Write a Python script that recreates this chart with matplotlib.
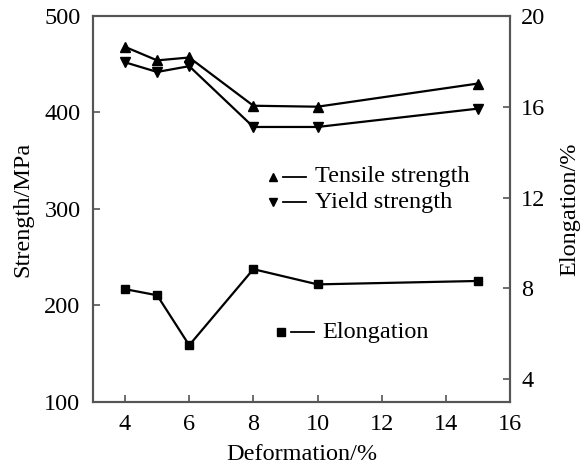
import matplotlib
matplotlib.use("Agg")
import matplotlib.pyplot as plt

plt.rcParams['font.family'] = ['Liberation Serif', 'DejaVu Serif']

deformation = [4, 5, 6, 8, 10, 15]
tensile = [468, 454, 457, 407, 406, 430]
yield_s = [452, 442, 448, 385, 385, 404]
elongation = [7.97, 7.7, 5.5, 8.85, 8.18, 8.33]

x_ticks = [4, 6, 8, 10, 12, 14, 16]
left_ticks = [100, 200, 300, 400, 500]
right_ticks = [4, 8, 12, 16, 20]

fs = 17.5
spine_c = '#555555'

fig = plt.figure(figsize=(5.87, 4.65), dpi=100)
ax = fig.add_axes([0.1584, 0.1355, 0.7104, 0.8301])
ax2 = ax.twinx()

ax.plot(deformation, tensile, color='black', lw=1.6, marker='^', ms=6.5, zorder=3)
ax.plot(deformation, yield_s, color='black', lw=1.6, marker='v', ms=6.5, zorder=3)
ax2.plot(deformation, elongation, color='black', lw=1.6, marker='s', ms=6, zorder=3)

ax.set_xlim(3, 16)
ax.set_ylim(100, 500)
ax2.set_ylim(3, 20)
ax.set_xticks(x_ticks)
ax.set_yticks(left_ticks)
ax2.set_yticks(right_ticks)

for a in (ax, ax2):
    for s in a.spines.values():
        s.set_color(spine_c)
        s.set_linewidth(1.5)
ax.tick_params(axis='both', direction='in', length=5, width=1.2, color=spine_c,
               labelsize=fs, pad=9)
ax2.tick_params(axis='y', direction='in', length=5, width=1.2, color=spine_c,
                labelsize=fs, pad=8)

ax.set_xlabel('Deformation/%', fontsize=fs, labelpad=6)
ax.set_ylabel('Strength/MPa', fontsize=fs, labelpad=8)
ax2.set_ylabel('Elongation/%', fontsize=fs, labelpad=10)

# legend entries (manual layout)
leg = [('^', 'Tensile strength', 0.432, 0.583),
       ('v', 'Yield strength', 0.432, 0.518),
       ('s', 'Elongation', 0.451, 0.181)]
for m, label, lx, ly in leg:
    ax.plot([lx], [ly], marker=m, color='black', ms=6 if m != 's' else 5.5,
            transform=ax.transAxes, clip_on=False)
    ax.plot([lx + 0.023, lx + 0.078], [ly, ly], color='black', lw=1.3,
            transform=ax.transAxes)
    ax.text(lx + 0.1, ly, label, fontsize=fs, va='center', ha='left',
            transform=ax.transAxes)

fig.savefig('out.png', dpi=100)
